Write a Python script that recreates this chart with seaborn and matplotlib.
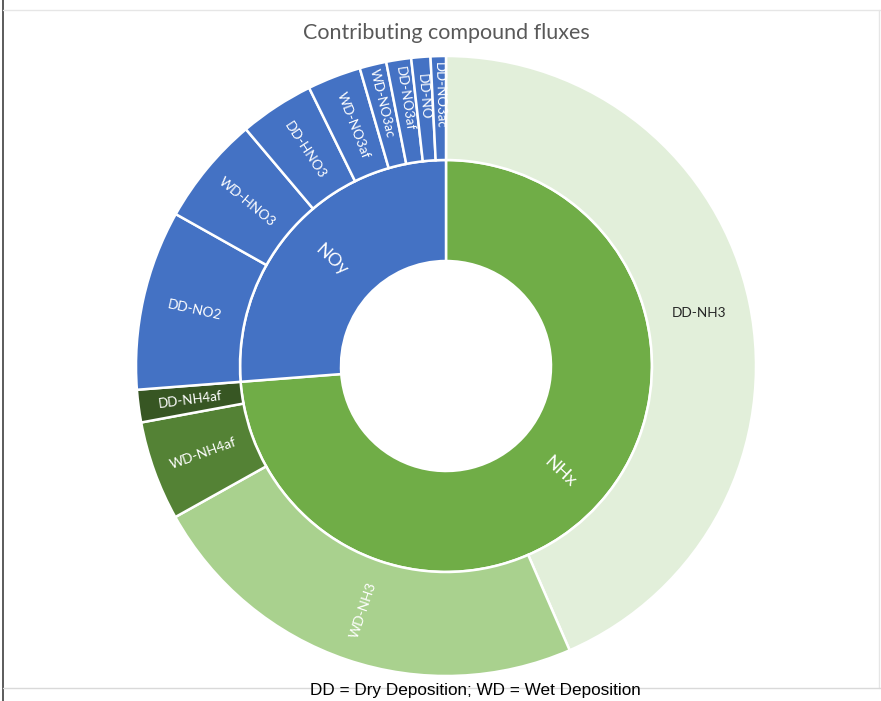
import numpy as np
import pandas as pd
import matplotlib
matplotlib.use("Agg")
import matplotlib.pyplot as plt
import seaborn as sns
from matplotlib.lines import Line2D

# ---------------- data ----------------
title = "Contributing compound fluxes"
footnote = "DD = Dry Deposition; WD = Wet Deposition"
groups = ["NHx", "NOy"]
compounds = ["DD-NH3", "WD-NH3", "WD-NH4af", "DD-NH4af",
             "DD-NO2", "WD-HNO3", "DD-HNO3", "WD-NO3af",
             "WD-NO3ac", "DD-NO3af", "DD-NO", "DD-NO3ac"]
compound_group = ["NHx"] * 4 + ["NOy"] * 8
compound_share = [43.6, 23.5, 5.2, 1.7,
                  9.4, 5.7, 3.9, 2.8,
                  1.4, 1.3, 1.0, 0.8]

# ---------------- style ----------------
sns.set_theme(style="white")
plt.rcParams["font.family"] = ["Lato", "DejaVu Sans"]

group_colors = {"NHx": "#70AD47", "NOy": "#4472C4"}
compound_colors = {"DD-NH3": "#E2EFDA", "WD-NH3": "#A9D18E",
                   "WD-NH4af": "#548235", "DD-NH4af": "#375623"}
label_dark = {"DD-NH3"}
label_horizontal = {"DD-NH3"}

df = pd.DataFrame({"compound": compounds, "group": compound_group,
                   "share": compound_share})
gsum = df.groupby("group", sort=False)["share"].sum().reindex(groups)

W, H = 881, 701
fig = plt.figure(figsize=(W / 100, H / 100), dpi=100)
cx, cy, R = 446, 366, 310
ax = fig.add_axes([(cx - R) / W, (H - cy - R) / H, 2 * R / W, 2 * R / H])
ax.axis("off")

r_hole, r_in = 105 / 310, 206 / 310
wedge_kw = dict(edgecolor="white", linewidth=1.8)

inner, _ = ax.pie(gsum.values, radius=r_in, startangle=90, counterclock=False,
                  colors=[group_colors[g] for g in groups],
                  wedgeprops=dict(width=r_in - r_hole, **wedge_kw))
outer, _ = ax.pie(df["share"].values, radius=1.0, startangle=90, counterclock=False,
                  colors=[compound_colors.get(c, "#4472C4") for c in compounds],
                  wedgeprops=dict(width=1.0 - r_in, **wedge_kw))
ax.set_xlim(-1, 1)
ax.set_ylim(-1, 1)


def put_label(w, text, size, color, horizontal=False, rfrac=0.5):
    th = np.deg2rad((w.theta1 + w.theta2) / 2)
    rm = w.r - w.width * (1 - rfrac)
    x, y = rm * np.cos(th), rm * np.sin(th)
    rot = np.rad2deg(th) % 360
    if 90 < rot < 270:
        rot -= 180
    if rot > 180:
        rot -= 360
    if horizontal:
        rot = 0
    ax.text(x, y, text, ha="center", va="center", rotation=rot,
            rotation_mode="anchor", fontsize=size, color=color)


for w, g in zip(inner, groups):
    put_label(w, g, 13, "white")
for w, c, s in zip(outer, compounds, compound_share):
    put_label(w, c, 9.5 if s < 2 else 9.8,
              "#262626" if c in label_dark else "white",
              horizontal=c in label_horizontal,
              rfrac=0.62 if s < 1.5 else 0.5)

fig.text(446 / W, 1 - 33 / H, title, ha="center", va="center",
         fontsize=15.5, color="#595959")
fig.text(475 / W, 1 - 690 / H, footnote, ha="center", va="center",
         fontsize=12.3, color="black",
         family=["Liberation Sans Narrow", "Liberation Sans", "DejaVu Sans"])

# frame lines
fig.add_artist(Line2D([3 / W, 3 / W], [0, 1], color="#404040", lw=1.2))
fig.add_artist(Line2D([3 / W, 1], [1 - 10 / H, 1 - 10 / H], color="#E6E6E6", lw=1))
fig.add_artist(Line2D([879 / W, 879 / W], [1 - 688 / H, 1 - 10 / H], color="#E6E6E6", lw=1))
fig.add_artist(Line2D([3 / W, 1], [1 - 688 / H, 1 - 688 / H], color="#D9D9D9", lw=1))

fig.savefig("out.png", dpi=100, facecolor="white")
